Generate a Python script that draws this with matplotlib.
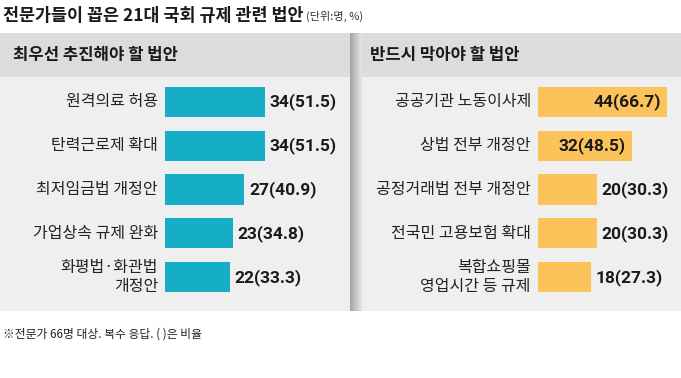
import numpy as np
import matplotlib
matplotlib.use("Agg")
import matplotlib.pyplot as plt
from matplotlib.patches import Rectangle

plt.rcParams['font.family'] = ['Noto Sans CJK KR', 'DejaVu Sans']

title = "전문가들이 꼽은 21대 국회 규제 관련 법안"
unit = "(단위:명, %)"
left_header = "최우선 추진해야 할 법안"
right_header = "반드시 막아야 할 법안"
left_labels = ["원격의료 허용", "탄력근로제 확대", "최저임금법 개정안", "가업상속 규제 완화", "화평법·화관법\n개정안"]
left_counts = [34, 34, 27, 23, 22]
left_pcts = [51.5, 51.5, 40.9, 34.8, 33.3]
right_labels = ["공공기관 노동이사제", "상법 전부 개정안", "공정거래법 전부 개정안", "전국민 고용보험 확대", "복합쇼핑몰\n영업시간 등 규제"]
right_counts = [44, 32, 20, 20, 18]
right_pcts = [66.7, 48.5, 30.3, 30.3, 27.3]
footnote = "※전문가 66명 대상. 복수 응답. ( )은 비율"

W, H = 681, 378
fig = plt.figure(figsize=(W / 100, H / 100), dpi=100)
fig.patch.set_facecolor("white")

# background panels
bg = fig.add_axes([0, 0, 1, 1], zorder=0)
bg.set_xlim(0, W)
bg.set_ylim(H, 0)
bg.axis("off")
bg.add_patch(Rectangle((0, 33), W, 278, facecolor="#EFEFEF", edgecolor="none"))
bg.add_patch(Rectangle((0, 33), W, 44, facecolor="#DCDCDC", edgecolor="none"))
grad = np.linspace(0, 1, 64).reshape(1, -1)
bg.imshow(grad, cmap=matplotlib.colors.LinearSegmentedColormap.from_list("sh", ["#A4A4A4", "#E6E6E6"]),
          extent=(350, 362, 311, 33), aspect="auto", zorder=1)

fig.text(3 / W, 1 - 16 / H, title, fontsize=12.5, fontweight="bold", va="center", ha="left", color="#1a1a1a")
fig.text(306 / W, 1 - 16 / H, unit, fontsize=8, va="center", ha="left", color="#333333")
fig.text(13 / W, 1 - 55 / H, left_header, fontsize=12, fontweight="bold", va="center", ha="left", color="#1a1a1a")
fig.text(370 / W, 1 - 55 / H, right_header, fontsize=12, fontweight="bold", va="center", ha="left", color="#1a1a1a")
fig.text(3 / W, 1 - 334 / H, footnote, fontsize=8.5, va="center", ha="left", color="#222222")

PX_PER_UNIT = 2.94
val_font = ['Roboto', 'DejaVu Sans']


def panel(x0, x1, labels, counts, pcts, color, inside_min):
    y0, y1 = 80, 299
    ax = fig.add_axes([x0 / W, 1 - y1 / H, (x1 - x0) / W, (y1 - y0) / H], zorder=2)
    ax.patch.set_alpha(0)
    ax.set_xlim(0, (x1 - x0) / PX_PER_UNIT)
    ax.set_ylim(len(labels) - 0.5, -0.5)
    ax.axis("off")
    idx = np.arange(len(labels))
    ax.barh(idx, counts, height=0.69, color=color, edgecolor="none")
    for i, (lab, c, p) in enumerate(zip(labels, counts, pcts)):
        ax.annotate(lab, xy=(0, i), xytext=(-7, 0), textcoords="offset pixels",
                    ha="right", va="center", fontsize=11.5, color="#222222",
                    linespacing=1.2, annotation_clip=False)
        txt = f"{c}({p:.1f})"
        if c >= inside_min:
            ax.annotate(txt, xy=(c, i), xytext=(-6, 0), textcoords="offset pixels",
                        ha="right", va="center", fontsize=12.5, fontweight="bold",
                        family=val_font, color="#1a1a1a", annotation_clip=False)
        else:
            ax.annotate(txt, xy=(c, i), xytext=(5, 0), textcoords="offset pixels",
                        ha="left", va="center", fontsize=12.5, fontweight="bold",
                        family=val_font, color="#1a1a1a", annotation_clip=False)
    return ax


panel(165, 350, left_labels, left_counts, left_pcts, "#16AEC6", 999)
panel(538, 681, right_labels, right_counts, right_pcts, "#FDC35B", 30)

fig.savefig("out.png", dpi=100)
